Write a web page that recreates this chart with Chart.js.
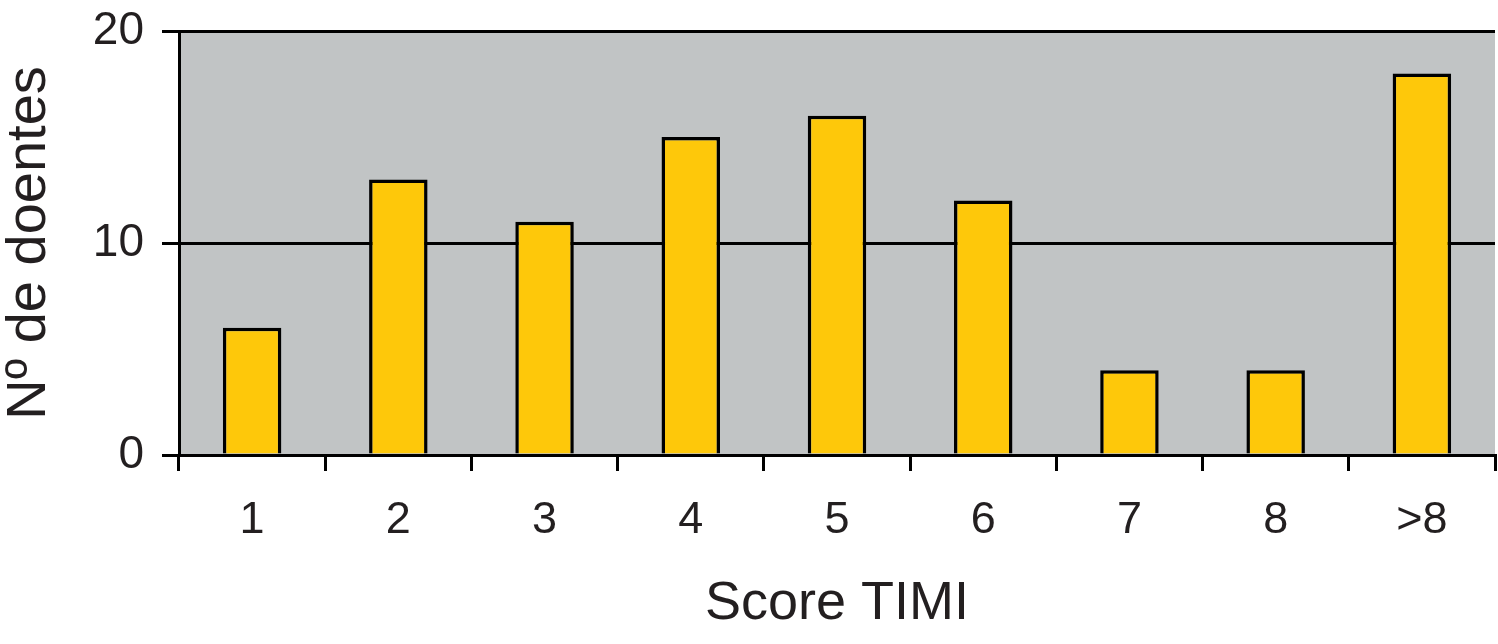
<!DOCTYPE html>
<html><head><meta charset="utf-8">
<script src="https://cdn.jsdelivr.net/npm/chart.js@4"></script>
<style>html,body{margin:0;padding:0;background:#fff}#wrap{width:1498px;height:644px;position:relative}</style>
</head><body><div id="wrap"><canvas id="c"></canvas></div>
<script>
const categories = ['1','2','3','4','5','6','7','8','>8'];
const patients = [6, 13, 11, 15, 16, 12, 4, 4, 18];
const yTickValues = [0, 10, 20];

const bgPlugin = {
  id: 'bg',
  beforeDraw(chart) {
    const {ctx, chartArea: a} = chart;
    ctx.save();
    ctx.fillStyle = '#c1c4c5';
    ctx.fillRect(a.left, a.top, a.right - a.left, a.bottom - a.top);
    ctx.restore();
  }
};

new Chart(document.getElementById('c'), {
  type: 'bar',
  data: { labels: categories, datasets: [{ data: patients, backgroundColor: '#fec80a', borderColor: '#000', borderWidth: 3.5, categoryPercentage: 1, barPercentage: 0.4 }] },
  plugins: [bgPlugin],
  options: {
    responsive: true, maintainAspectRatio: false, animation: false,
    layout: { padding: { left: 0, right: 3, top: 31, bottom: 0 } },
    plugins: { legend: { display: false }, tooltip: { enabled: false } },
    scales: {
      x: {
        afterFit(s) { s.height = 189; s.paddingLeft = 0; s.paddingRight = 0; },
        grid: { offset: true, drawOnChartArea: false, color: '#000', lineWidth: 3, tickLength: 16 },
        border: { color: '#000', width: 3 },
        ticks: { color: '#231f20', font: { family: 'Liberation Sans', size: 45 }, padding: 23 },
        title: { display: true, text: 'Score TIMI', color: '#231f20', font: { family: 'Liberation Sans', size: 54 }, padding: { top: 0, bottom: 7 } }
      },
      y: {
        min: 0, max: 20,
        afterFit(s) { s.width = 179; s.paddingTop = 0; s.paddingBottom = 0; },
        afterBuildTicks(s) { s.ticks = yTickValues.map(v => ({ value: v })); },
        grid: { color: '#000', lineWidth: 3, tickLength: 17 },
        border: { color: '#000', width: 3 },
        ticks: { color: '#231f20', font: { family: 'Liberation Sans', size: 46 }, padding: 18 },
        title: { display: true, text: 'Nº de doentes', color: '#231f20', font: { family: 'Liberation Sans', size: 56 }, padding: { top: -4, bottom: 0 } }
      }
    }
  }
});
</script></body></html>
